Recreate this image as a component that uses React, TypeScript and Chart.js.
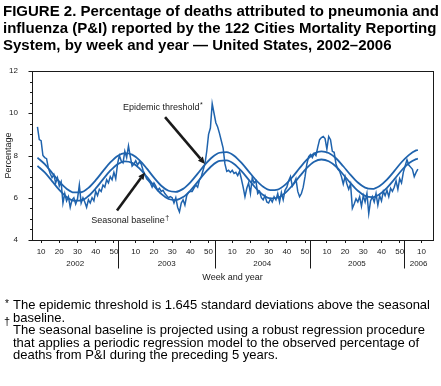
import React, { useEffect, useRef } from 'react';
import { Chart, registerables } from 'chart.js';

Chart.register(...registerables);

// Observed weekly P&I percentage, 2002 week 8 (index 0) through 2006 week 8 (index 209)
const observedPct = [
  9.35, 8.75, 8.7, 8.0, 7.9, 7.85, 7.4, 7.15, 6.95, 7.1,
  6.7, 6.95, 6.55, 6.75, 5.75, 6.2, 5.85, 6.05, 5.55, 5.9,
  6.0, 5.7, 5.95, 6.6, 5.75, 6.0, 5.8, 5.55, 5.9, 5.75,
  6.0, 5.85, 6.3, 6.1, 6.4, 6.3, 6.6, 6.5, 6.85, 6.7,
  7.0, 6.85, 7.2, 6.9, 7.6, 8.0, 7.75, 7.65, 8.2, 7.9,
  8.45, 7.95, 7.5, 7.6, 7.75, 7.55, 7.7, 7.6, 7.3, 7.1,
  6.9, 6.8, 6.7, 6.5, 6.7, 6.55, 6.35, 6.45, 6.3, 6.35,
  6.2, 6.1, 6.0, 6.05, 6.0, 5.75, 6.0, 5.55, 5.33, 5.75,
  5.9, 5.65, 6.1, 6.25, 6.3, 6.3, 6.45, 6.6, 6.5, 6.85,
  7.0, 7.3, 7.6, 8.2, 9.0, 9.3, 10.45, 10.0, 9.55, 9.35,
  9.05, 8.7, 8.35, 7.6, 7.25, 7.3, 7.2, 7.3, 7.15, 7.2,
  7.05, 7.25, 6.9, 6.5, 6.05, 6.45, 6.7, 6.2, 6.95, 6.7,
  6.8, 6.2, 6.3, 6.0, 5.9, 6.1, 5.8, 5.75, 5.95, 5.8,
  6.05, 5.9, 6.2, 5.8, 6.25, 5.9, 6.35, 6.5, 6.8, 7.0,
  6.55, 6.7, 6.9, 6.3, 6.05, 6.2, 6.5, 7.0, 7.6, 7.95,
  8.05, 7.9, 8.1, 8.0, 8.4, 8.75, 8.85, 8.9, 8.8, 8.3,
  8.9, 8.75, 8.2, 8.15, 7.6, 7.35, 7.25, 7.0, 6.65, 7.0,
  6.65, 6.4, 6.65, 5.5, 5.7, 5.95, 5.8, 6.05, 5.6, 6.1,
  5.8, 6.2, 5.25, 5.85, 6.05, 5.8, 6.2, 5.65, 6.1, 5.85,
  6.3, 6.1, 6.35, 6.05, 6.45, 6.3, 6.5, 6.8, 6.4, 6.9,
  6.7, 7.2, 7.5, 7.8, 7.55, 7.45, 7.35, 7.0, 7.2, 7.35,
];

// Smooth curves, read every 4 weeks
const curveWeekIdx = [
  0, 4, 8, 12, 16, 20, 24, 28, 32, 36, 40, 44, 48, 52, 56, 60, 64, 68, 72, 76,
  80, 84, 88, 92, 96, 100, 104, 108, 112, 116, 120, 124, 128, 132, 136, 140, 144, 148, 152, 156,
  160, 164, 168, 172, 176, 180, 184, 188, 192, 196, 200, 204, 208, 209,
];
const baselinePct = [
  7.51, 7.2, 6.79, 6.37, 6.04, 5.86, 5.87, 6.08, 6.44, 6.87, 7.28, 7.59, 7.72, 7.65, 7.39, 7.0, 6.56, 6.18, 5.94, 5.89,
  6.03, 6.34, 6.75, 7.18, 7.53, 7.74, 7.77, 7.6, 7.27, 6.86, 6.45, 6.13, 5.97, 6.0, 6.22, 6.58, 7.01, 7.41, 7.7, 7.81,
  7.73, 7.48, 7.1, 6.69, 6.33, 6.09, 6.03, 6.17, 6.47, 6.87, 7.29, 7.63, 7.83, 7.85,
];
const thresholdPct = [
  7.9, 7.59, 7.18, 6.76, 6.43, 6.25, 6.26, 6.47, 6.83, 7.26, 7.67, 7.98, 8.11, 8.04, 7.78, 7.39, 6.95, 6.57, 6.33, 6.28,
  6.42, 6.73, 7.14, 7.57, 7.92, 8.13, 8.16, 7.99, 7.66, 7.25, 6.84, 6.52, 6.36, 6.39, 6.61, 6.97, 7.4, 7.8, 8.09, 8.2,
  8.12, 7.87, 7.49, 7.08, 6.72, 6.48, 6.42, 6.56, 6.86, 7.26, 7.68, 8.02, 8.24, 8.26,
];

// x axis: week ticks and years
const xTickIdx = [2, 12, 22, 32, 42, 54, 64, 74, 84, 94, 107, 117, 127, 137, 147, 159, 169, 179, 189, 199, 211];
const xTickLabels = ['10', '20', '30', '40', '50', '10', '20', '30', '40', '50', '10', '20', '30', '40', '50', '10', '20', '30', '40', '50', '10'];
const yearLabels = ['2002', '2003', '2004', '2005', '2006'];
const yearStartIdx = [-7, 45, 98, 150, 202];

// y axis
const yMajorStep = 2;
const yMinorStep = 0.5;

const FONT = '"Liberation Sans", Arial, Helvetica, sans-serif';
const BLUE = '#1f63ad';
const INK = '#1a1a1a';

function drawArrow(ctx: CanvasRenderingContext2D, x1: number, y1: number, x2: number, y2: number) {
  const ang = Math.atan2(y2 - y1, x2 - x1);
  const head = 7;
  const hw = 3.2;
  const bx = x2 - head * Math.cos(ang);
  const by = y2 - head * Math.sin(ang);
  ctx.beginPath();
  ctx.moveTo(x1, y1);
  ctx.lineTo(bx, by);
  ctx.lineWidth = 2.6;
  ctx.strokeStyle = INK;
  ctx.stroke();
  ctx.beginPath();
  ctx.moveTo(x2, y2);
  ctx.lineTo(bx + hw * Math.sin(ang), by - hw * Math.cos(ang));
  ctx.lineTo(bx - hw * Math.sin(ang), by + hw * Math.cos(ang));
  ctx.closePath();
  ctx.fillStyle = INK;
  ctx.fill();
}

function drawLabelWithMark(ctx: CanvasRenderingContext2D, text: string, mark: string, cx: number, cy: number) {
  ctx.font = `9px ${FONT}`;
  const w1 = ctx.measureText(text).width;
  ctx.font = `7px ${FONT}`;
  const w2 = ctx.measureText(mark).width;
  const left = cx - (w1 + w2) / 2;
  ctx.fillStyle = INK;
  ctx.textAlign = 'left';
  ctx.textBaseline = 'middle';
  ctx.font = `9px ${FONT}`;
  ctx.fillText(text, left, cy);
  ctx.font = `7px ${FONT}`;
  ctx.fillText(mark, left + w1 + 0.5, cy - 3);
}

const framePlugin = {
  id: 'frame',
  afterDraw(chart: any) {
    const { ctx, chartArea: a, scales } = chart;
    const x = scales.x;
    const y = scales.y;
    ctx.save();
    // frame box
    ctx.strokeStyle = INK;
    ctx.lineWidth = 1;
    const L = Math.round(a.left) + 0.5;
    const T = Math.round(a.top) + 0.5;
    const R = Math.round(a.right) + 0.5;
    const B = Math.round(a.bottom) + 0.5;
    ctx.strokeRect(L, T, R - L, B - T);

    // y tick marks (major and minor)
    for (let v = y.min; v <= y.max + 1e-9; v += yMinorStep) {
      const py = Math.round(y.getPixelForValue(v)) + 0.5;
      const len = Math.abs(v % yMajorStep) < 1e-9 ? 4 : 2.5;
      ctx.beginPath();
      ctx.moveTo(L - len, py);
      ctx.lineTo(L, py);
      ctx.stroke();
    }

    // year separators and labels
    ctx.font = `8px ${FONT}`;
    ctx.fillStyle = INK;
    ctx.textAlign = 'center';
    ctx.textBaseline = 'middle';
    for (let i = 0; i < yearLabels.length; i++) {
      const sIdx = yearStartIdx[i] - 0.5;
      const eIdx = i + 1 < yearStartIdx.length ? yearStartIdx[i + 1] - 0.5 : x.max;
      const sPx = Math.max(x.getPixelForValue(sIdx), a.left);
      const ePx = Math.min(x.getPixelForValue(eIdx), a.right);
      if (sIdx > x.min) {
        const px = Math.round(sPx) + 0.5;
        ctx.beginPath();
        ctx.moveTo(px, B);
        ctx.lineTo(px, B + 28);
        ctx.stroke();
      }
      ctx.fillText(yearLabels[i], (sPx + ePx) / 2, B + 23);
    }

    // axis titles
    ctx.font = `9px ${FONT}`;
    ctx.fillText('Week and year', (a.left + a.right) / 2, B + 37);
    ctx.save();
    ctx.translate(9, (a.top + a.bottom) / 2);
    ctx.rotate(-Math.PI / 2);
    ctx.fillText('Percentage', 0, 0);
    ctx.restore();

    // annotations
    drawArrow(ctx, x.getPixelForValue(70.1), y.getPixelForValue(9.82), x.getPixelForValue(92), y.getPixelForValue(7.6));
    drawLabelWithMark(ctx, 'Epidemic threshold', '*', x.getPixelForValue(68.7), y.getPixelForValue(10.25));
    drawArrow(ctx, x.getPixelForValue(43.7), y.getPixelForValue(5.4), x.getPixelForValue(59.1), y.getPixelForValue(7.2));
    drawLabelWithMark(ctx, 'Seasonal baseline', '\u2020', x.getPixelForValue(50.85), y.getPixelForValue(4.92));
    ctx.restore();
  },
};

export default function App() {
  const ref = useRef<HTMLCanvasElement>(null);
  useEffect(() => {
    const canvas = ref.current;
    if (!canvas) return;
    const chart = new Chart(canvas, {
      type: 'line',
      data: {
        datasets: [
          {
            label: 'Observed',
            data: observedPct.map((v, i) => ({ x: i, y: v })),
            borderColor: BLUE,
            borderWidth: 1.5,
            pointRadius: 0,
            tension: 0,
          },
          {
            label: 'Epidemic threshold',
            data: curveWeekIdx.map((w, i) => ({ x: w, y: thresholdPct[i] })),
            borderColor: BLUE,
            borderWidth: 1.8,
            pointRadius: 0,
            cubicInterpolationMode: 'monotone',
          },
          {
            label: 'Seasonal baseline',
            data: curveWeekIdx.map((w, i) => ({ x: w, y: baselinePct[i] })),
            borderColor: BLUE,
            borderWidth: 1.8,
            pointRadius: 0,
            cubicInterpolationMode: 'monotone',
          },
        ],
      },
      options: {
        animation: false,
        responsive: false,
        maintainAspectRatio: false,
        layout: { padding: { top: 71, right: 8, left: 0, bottom: 0 } },
        plugins: { legend: { display: false }, tooltip: { enabled: false }, title: { display: false } },
        scales: {
          x: {
            type: 'linear',
            min: -3,
            max: 217.3,
            afterBuildTicks: (s: any) => {
              s.ticks = xTickIdx.map((v) => ({ value: v }));
            },
            afterFit: (s: any) => {
              s.height = 146;
            },
            ticks: {
              autoSkip: false,
              maxRotation: 0,
              minRotation: 0,
              padding: 4,
              color: INK,
              font: { family: FONT, size: 8 },
              callback: (_v: any, i: number) => xTickLabels[i] ?? '',
            },
            grid: { display: true, drawOnChartArea: false, drawTicks: true, tickLength: 3, color: INK },
            border: { display: false },
          },
          y: {
            min: 4,
            max: 12,
            afterFit: (s: any) => {
              s.width = 32;
            },
            ticks: { stepSize: yMajorStep, padding: 6, color: INK, font: { family: FONT, size: 8 } },
            grid: { display: false },
            border: { display: false },
          },
        },
      },
      plugins: [framePlugin],
    } as any);
    return () => chart.destroy();
  }, []);

  return (
    <div style={{ position: 'fixed', left: 0, top: 0, width: 441, height: 386, background: '#fff', overflow: 'hidden', fontFamily: FONT, color: '#000' }}>
      <canvas ref={ref} width={441} height={386} style={{ position: 'absolute', left: 0, top: 0, width: 441, height: 386 }} />
      <div style={{ position: 'absolute', left: 3, top: 2, fontSize: 15, fontWeight: 'bold', lineHeight: '17px', whiteSpace: 'nowrap' }}>
        FIGURE 2. Percentage of deaths attributed to pneumonia and
        <br />
        influenza (P&amp;I) reported by the 122 Cities Mortality Reporting
        <br />
        System, by week and year — United States, 2002–2006
      </div>
      <span style={{ position: 'absolute', left: 5, top: 299, fontSize: 10, lineHeight: '10px' }}>*</span>
      <span style={{ position: 'absolute', left: 4, top: 316, fontSize: 11, lineHeight: '11px' }}>{'\u2020'}</span>
      <div style={{ position: 'absolute', left: 13, top: 299, fontSize: 13, lineHeight: '12.6px', whiteSpace: 'nowrap' }}>
        <div>The epidemic threshold is 1.645 standard deviations above the seasonal</div>
        <div>baseline.</div>
        <div>The seasonal baseline is projected using a robust regression procedure</div>
        <div>that applies a periodic regression model to the observed percentage of</div>
        <div>deaths from P&amp;I during the preceding 5 years.</div>
      </div>
    </div>
  );
}
